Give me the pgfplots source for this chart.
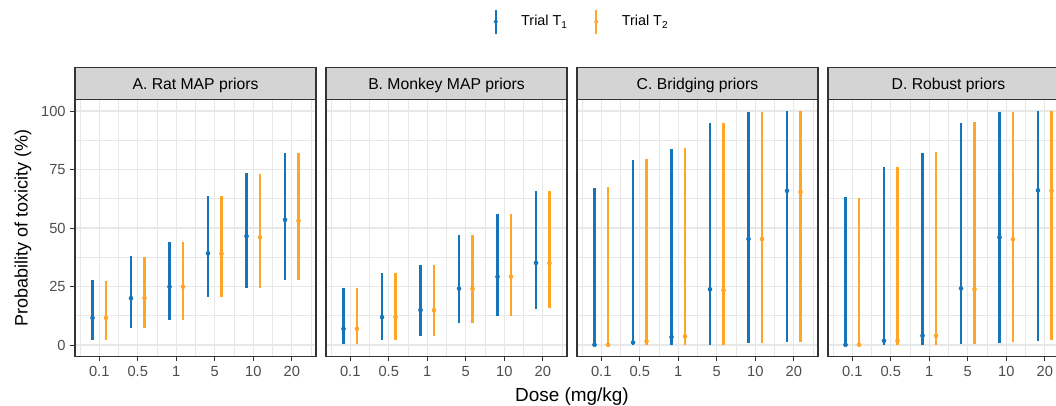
\documentclass[border=0pt]{standalone}
\usepackage{fontspec}
\setmainfont{Liberation Sans}
\usepackage{pgfplots}
\usepackage{pgfplotstable}
\pgfplotsset{compat=1.18}
\definecolor{tone}{RGB}{22,116,185}
\definecolor{ttwo}{RGB}{255,165,40}
\definecolor{gridc}{RGB}{232,232,232}
\definecolor{g20}{RGB}{51,51,51}
\definecolor{g30}{RGB}{77,77,77}
\definecolor{stripc}{RGB}{212,212,213}

% columns: x (dose index), y (point), lo, hi
\pgfplotstableread{
x y lo hi
1 11.6 2.3 27.8
2 20.0 7.1 38.1
3 24.9 10.5 44.1
4 39.2 20.4 63.7
5 46.5 24.2 73.7
6 53.5 27.6 82.2
}\ratA
\pgfplotstableread{
x y lo hi
1 11.6 2.3 27.5
2 20.0 7.1 37.8
3 24.9 10.5 43.9
4 39.0 20.4 63.5
5 46.0 24.2 73.1
6 53.1 27.6 81.9
}\ratB
\pgfplotstableread{
x y lo hi
1 6.9 0.6 24.2
2 11.9 2.3 30.6
3 14.9 3.7 34.3
4 24.1 9.3 47.0
5 29.2 12.5 56.1
6 35.1 15.3 65.9
}\monA
\pgfplotstableread{
x y lo hi
1 6.9 0.6 24.2
2 11.9 2.3 30.6
3 14.9 3.7 34.4
4 24.1 9.3 47.0
5 29.2 12.5 56.0
6 35.0 15.7 65.9
}\monB
\pgfplotstableread{
x y lo hi
1 0.1 0.0 67.0
2 1.1 0.0 79.2
3 3.4 0.0 83.6
4 23.8 0.0 95.0
5 45.3 0.7 99.4
6 65.9 1.4 99.9
}\briA
\pgfplotstableread{
x y lo hi
1 0.1 0.0 67.4
2 1.6 0.0 79.6
3 3.7 0.0 84.3
4 23.4 0.0 95.0
5 45.3 0.8 99.4
6 65.4 1.4 99.9
}\briB
\pgfplotstableread{
x y lo hi
1 0.1 0.0 63.2
2 1.8 0.0 76.2
3 4.0 0.0 81.9
4 24.2 0.3 94.9
5 46.0 1.0 99.6
6 66.1 1.7 99.9
}\robA
\pgfplotstableread{
x y lo hi
1 0.1 0.0 62.8
2 1.8 0.0 75.9
3 4.0 0.0 82.4
4 23.8 0.4 95.2
5 45.2 1.3 99.5
6 65.9 2.3 99.9
}\robB

\pgfplotsset{
  facet/.style={
    scale only axis, width=180.75pt, height=193.05pt,
    xmin=0.37, xmax=6.63, ymin=-5, ymax=105,
    xtick={1,2,3,4,5,6}, xticklabels={0.1,0.5,1,5,10,20},
    minor xtick={0.5,1.5,2.5,3.5,4.5,5.5,6.5},
    ytick={0,25,50,75,100}, minor ytick={12.5,37.5,62.5,87.5},
    grid=both,
    major grid style={draw=gridc, line width=1.1pt},
    minor grid style={draw=gridc, line width=0.55pt},
    axis line style={draw=g20, line width=0.9pt},
    tick style={draw=g20, line width=0.75pt},
    tick align=outside, major tick length=3.5pt, minor tick length=0pt,
    xtick pos=lower, ytick pos=left,
    ticklabel style={font=\fontsize{11}{13}\selectfont, text=g30},
    /pgf/number format/assume math mode=true,
  },
  noy/.style={yticklabels={}, ytick style={draw=none}},
  trialone/.style={tone, only marks, mark=*, mark size=1.5pt, forget plot,
    error bars/.cd, y dir=both, y explicit,
    error bar style={line width=1.7pt, tone}, error mark=none},
  trialtwo/.style={ttwo, only marks, mark=*, mark size=1.5pt, forget plot,
    error bars/.cd, y dir=both, y explicit,
    error bar style={line width=1.7pt, ttwo}, error mark=none},
}
\newcommand{\strip}[2]{%
  \draw[fill=stripc, draw=g20, line width=0.9pt] (#1,229.275pt) rectangle ++(180.75pt,24pt);
  \node[anchor=base, font=\fontsize{11.8}{14}\selectfont, inner sep=0pt] at ([xshift=90.375pt]#1,236.7pt) {#2};}

\begin{document}
\begin{tikzpicture}
\useasboundingbox (0,0) rectangle (792pt,303.75pt);
\clip (0,0) rectangle (792pt,303.75pt);

\begin{axis}[facet, at={(56.25pt,36.225pt)}, anchor=south west,
  ylabel={Probability of toxicity (\%)},
  ylabel style={at={(axis description cs:-0.2158,0.5)}, anchor=center, font=\fontsize{13.5}{16}\selectfont},
  legend style={at={(axis description cs:1.737,1.3015)}, anchor=west, draw=none, fill=none,
    inner sep=0pt, outer sep=0pt, legend columns=2,
    nodes={inner sep=0pt}, font=\fontsize{10.8}{13}\selectfont,
    /tikz/every odd column/.append style={column sep=17.5pt},
    /tikz/every even column/.append style={column sep=19.8pt}},
]
\addlegendimage{legend image code/.code={\draw[tone, line width=1.6pt] (0pt,-9pt)--(0pt,9pt); \fill[tone] (0pt,0pt) circle (1.4pt);}}
\addlegendentry{Trial T\textsubscript{1}}
\addlegendimage{legend image code/.code={\draw[ttwo, line width=1.6pt] (0pt,-9pt)--(0pt,9pt); \fill[ttwo] (0pt,0pt) circle (1.4pt);}}
\addlegendentry{Trial T\textsubscript{2}}
\addplot[trialone] table[x expr=\thisrow{x}-0.175, y=y, y error plus expr=\thisrow{hi}-\thisrow{y}, y error minus expr=\thisrow{y}-\thisrow{lo}] {\ratA};
\addplot[trialtwo] table[x expr=\thisrow{x}+0.175, y=y, y error plus expr=\thisrow{hi}-\thisrow{y}, y error minus expr=\thisrow{y}-\thisrow{lo}] {\ratB};
\end{axis}

\begin{axis}[facet, noy, at={(244.5pt,36.225pt)}, anchor=south west]
\addplot[trialone] table[x expr=\thisrow{x}-0.175, y=y, y error plus expr=\thisrow{hi}-\thisrow{y}, y error minus expr=\thisrow{y}-\thisrow{lo}] {\monA};
\addplot[trialtwo] table[x expr=\thisrow{x}+0.175, y=y, y error plus expr=\thisrow{hi}-\thisrow{y}, y error minus expr=\thisrow{y}-\thisrow{lo}] {\monB};
\end{axis}

\begin{axis}[facet, noy, at={(432.75pt,36.225pt)}, anchor=south west]
\addplot[trialone] table[x expr=\thisrow{x}-0.175, y=y, y error plus expr=\thisrow{hi}-\thisrow{y}, y error minus expr=\thisrow{y}-\thisrow{lo}] {\briA};
\addplot[trialtwo] table[x expr=\thisrow{x}+0.175, y=y, y error plus expr=\thisrow{hi}-\thisrow{y}, y error minus expr=\thisrow{y}-\thisrow{lo}] {\briB};
\end{axis}

\begin{axis}[facet, noy, at={(621pt,36.225pt)}, anchor=south west]
\addplot[trialone] table[x expr=\thisrow{x}-0.175, y=y, y error plus expr=\thisrow{hi}-\thisrow{y}, y error minus expr=\thisrow{y}-\thisrow{lo}] {\robA};
\addplot[trialtwo] table[x expr=\thisrow{x}+0.175, y=y, y error plus expr=\thisrow{hi}-\thisrow{y}, y error minus expr=\thisrow{y}-\thisrow{lo}] {\robB};
\end{axis}

\strip{56.25pt}{A. Rat MAP priors}
\strip{244.5pt}{B. Monkey MAP priors}
\strip{432.75pt}{C. Bridging priors}
\strip{621pt}{D. Robust priors}

\node[anchor=base, font=\fontsize{14.2}{17}\selectfont, inner sep=0pt] at (429pt,2.5pt) {Dose (mg/kg)};
\end{tikzpicture}
\end{document}
